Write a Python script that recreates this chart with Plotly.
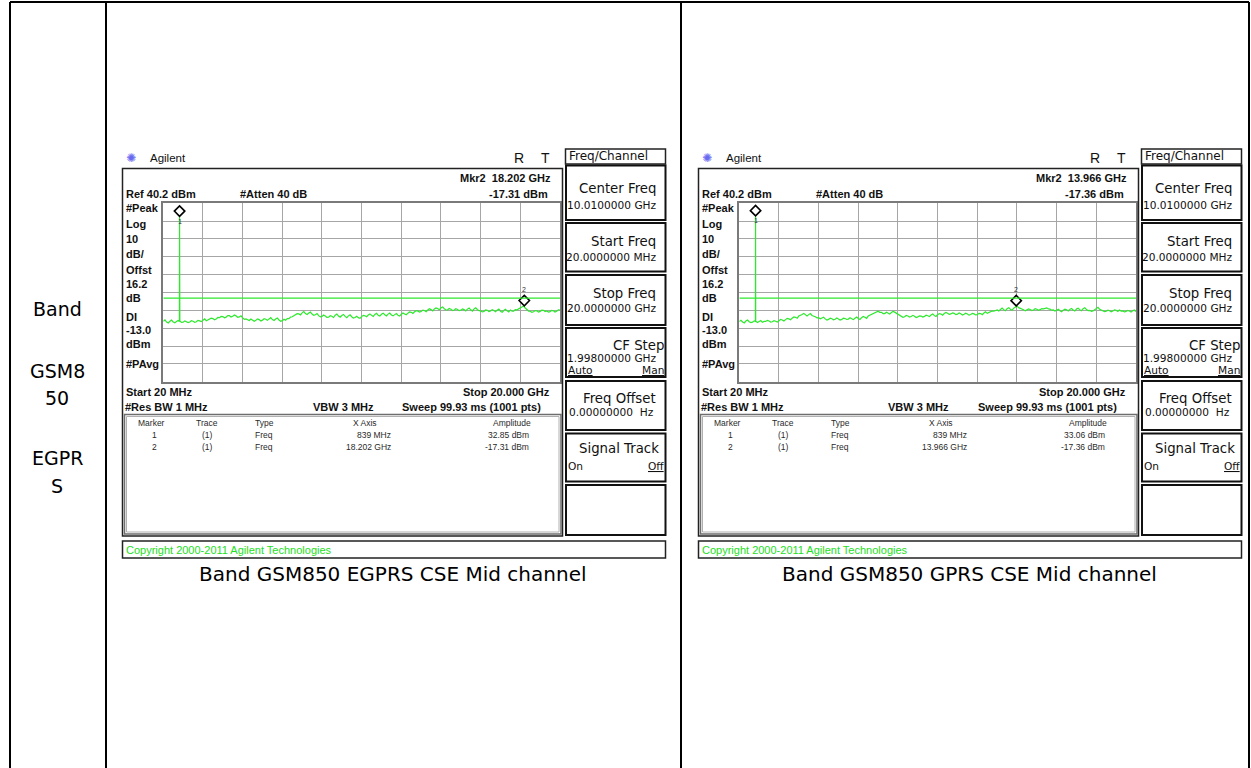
import numpy as np
import plotly.graph_objects as go

W, H = 1251, 768

# ---------------- data ----------------
sweep_start_ghz = 0.02
sweep_stop_ghz = 20.0
ref_level_dbm = 40.2
db_per_div = 10.0
display_line_dbm = -13.0

egprs_trace_dbm = [
    -26.0, -25.2, -26.4, -26.9, -25.9, -25.3, -26.3, -26.8, -26.1, -25.5,
    -25.8, -26.6, -26.5, -25.7, -26.0, -26.7, -26.3, -25.6, -25.9, -26.5,
    -26.2, -25.4, -25.7, -26.1, -25.3, -24.6, -25.6, -25.0, -24.9, -24.2,
    -24.4, -25.1, -24.7, -23.8, -23.9, -23.2, -23.3, -24.0, -23.6, -22.7,
    -22.8, -23.5, -23.1, -22.4, -22.9, -23.7, -23.5, -22.9, -24.0, -24.8,
    -24.6, -25.3, -25.5, -24.7, -25.1, -25.9, -25.4, -24.6, -25.0, -25.8,
    -25.3, -24.5, -24.8, -25.4, -24.6, -23.9, -25.0, -25.5, -24.7, -24.1,
    -25.2, -25.9, -25.6, -24.8, -25.3, -24.4, -24.5, -23.6, -23.4, -22.7,
    -22.5, -21.7, -21.8, -22.4, -21.2, -20.5, -21.6, -22.1, -21.3, -20.8,
    -21.9, -22.6, -22.3, -21.6, -22.8, -23.5, -23.2, -22.4, -23.0, -23.7,
    -23.6, -22.8, -23.1, -23.8, -22.5, -21.9, -23.0, -23.6, -22.7, -22.1,
    -23.2, -23.9, -22.9, -22.3, -23.4, -24.1, -23.8, -23.1, -23.9, -24.3,
    -23.3, -22.6, -22.8, -23.4, -22.4, -21.8, -22.6, -23.2, -22.1, -21.5,
    -22.5, -23.0, -22.0, -21.4, -22.3, -22.9, -21.9, -21.3, -22.4, -22.9,
    -22.2, -21.6, -22.5, -23.0, -22.0, -21.3, -21.8, -22.3, -21.4, -20.7,
    -20.9, -21.5, -20.6, -20.0, -20.2, -20.8, -20.5, -19.7, -19.9, -20.6,
    -19.6, -18.9, -19.4, -20.1, -19.0, -18.5, -18.8, -19.5, -18.4, -17.9,
    -18.9, -19.6, -19.5, -18.8, -19.2, -19.9, -19.6, -18.9, -19.3, -20.0,
    -19.7, -19.0, -19.4, -20.1, -19.1, -18.5, -19.5, -20.2, -19.0, -18.4,
    -19.3, -20.0, -20.1, -20.7, -20.4, -19.6, -19.8, -20.5, -20.2, -19.4,
    -19.9, -20.6, -19.7, -19.1, -20.3, -20.9, -19.9, -19.2, -20.1, -20.7,
    -19.6, -20.3, -20.2, -19.4, -19.5, -18.9, -18.6, -17.8, -17.4, -18.5,
    -19.4, -20.2, -20.3, -20.9, -20.6, -19.9, -20.1, -20.8, -20.4, -19.7,
    -19.8, -20.5, -20.2, -20.8, -20.5, -19.8, -20.0, -20.7, -20.3, -19.5,
    -19.6,
]
gprs_trace_dbm = [
    -26.1, -25.4, -26.3, -26.9, -25.8, -25.2, -26.2, -26.7, -26.4, -25.7,
    -25.9, -26.6, -26.1, -25.5, -26.5, -26.0, -26.0, -25.4, -25.8, -26.4,
    -26.2, -25.6, -25.9, -26.4, -25.6, -24.9, -25.2, -25.8, -25.0, -24.3,
    -24.6, -25.1, -24.2, -23.5, -23.7, -24.2, -23.0, -22.3, -22.1, -21.5,
    -22.4, -23.0, -22.2, -21.6, -22.7, -23.3, -23.4, -24.0, -23.9, -24.6,
    -24.3, -23.7, -24.6, -25.2, -24.9, -24.2, -24.5, -25.1, -24.8, -24.1,
    -24.6, -25.2, -24.9, -24.2, -24.4, -24.9, -24.7, -24.0, -24.5, -25.0,
    -24.2, -23.6, -24.4, -24.9, -23.9, -23.2, -23.7, -24.3, -23.0, -22.5,
    -22.4, -21.7, -21.4, -20.6, -20.3, -20.9, -20.9, -21.6, -21.6, -20.9,
    -21.3, -21.9, -21.0, -20.4, -20.8, -21.4, -21.9, -22.6, -23.1, -23.7,
    -23.4, -22.7, -23.0, -23.6, -23.3, -22.6, -23.1, -23.8, -23.5, -22.9,
    -23.0, -23.6, -23.2, -22.5, -22.8, -23.3, -22.4, -21.8, -22.7, -23.2,
    -22.3, -21.6, -21.9, -22.5, -21.6, -21.0, -21.4, -22.0, -21.8, -21.2,
    -21.5, -22.2, -21.9, -21.3, -21.7, -22.4, -22.0, -21.4, -21.8, -22.5,
    -22.1, -21.5, -21.8, -22.4, -22.2, -21.5, -21.6, -22.2, -21.3, -20.6,
    -21.5, -21.0, -20.8, -20.1, -20.3, -19.8, -19.6, -20.2, -19.1, -18.5,
    -19.4, -20.0, -18.9, -18.3, -19.2, -19.8, -18.6, -17.9, -17.4, -18.3,
    -18.6, -19.3, -19.5, -20.1, -19.7, -19.0, -19.3, -19.9, -19.6, -18.9,
    -19.2, -19.8, -19.4, -18.8, -19.0, -18.5, -18.4, -19.0, -19.1, -19.7,
    -19.6, -20.2, -19.8, -19.2, -20.0, -20.6, -19.7, -19.1, -19.5, -20.1,
    -19.3, -18.8, -19.6, -20.2, -19.1, -18.6, -19.4, -20.0, -18.9, -18.3,
    -19.3, -19.9, -19.8, -20.4, -20.1, -19.4, -18.5, -18.1, -19.2, -19.8,
    -19.9, -20.5, -20.3, -19.7, -20.0, -20.6, -20.2, -19.5, -19.8, -20.4,
    -19.6, -20.2, -20.1, -20.7, -20.4, -19.8, -20.2, -20.8, -20.0, -19.6,
    -20.5,
]
spike_freq_ghz = [0.832, 0.839, 0.846]
egprs_spike_dbm = [-26.1, 32.85, -26.0]
gprs_spike_dbm = [-26.0, 33.06, -26.1]

egprs_marker_freq_ghz = [0.839, 18.202]
egprs_marker_dbm = [32.85, -17.31]
gprs_marker_freq_ghz = [0.839, 13.966]
gprs_marker_dbm = [33.06, -17.36]

egprs_marker_x_text = ["839 MHz", "18.202 GHz"]
egprs_marker_amp_text = ["32.85 dBm", "-17.31 dBm"]
gprs_marker_x_text = ["839 MHz", "13.966 GHz"]
gprs_marker_amp_text = ["33.06 dBm", "-17.36 dBm"]

captions = ["Band GSM850 EGPRS CSE Mid channel", "Band GSM850 GPRS CSE Mid channel"]
row_label_lines = ["Band", "GSM8", "50", "EGPR", "S"]
side_labels = ["#Peak", "Log", "10", "dB/", "Offst", "16.2", "dB", "DI", "-13.0", "dBm", "#PAvg"]
softkey_titles = ["Center Freq", "Start Freq", "Stop Freq", "CF Step", "Freq Offset", "Signal Track"]
softkey_values = ["10.0100000 GHz", "20.0000000 MHz", "20.0000000 GHz", "1.99800000 GHz", "0.00000000\u00a0 Hz"]

# ---------------- style / layout helpers ----------------
ARIAL = "Liberation Sans, Arial, sans-serif"
DEJAVU = "DejaVu Sans, sans-serif"
GREEN = "#2ee82e"
GRID = "#a6a6a6"


def X(px):
    return px / W


def Y(py):
    return 1 - py / H


shapes = []
annotations = []


def rect(x0, y0, x1, y1, color="#111", width=1.5):
    shapes.append(dict(type="rect", xref="paper", yref="paper",
                       x0=X(x0), x1=X(x1), y0=Y(y1), y1=Y(y0),
                       line=dict(color=color, width=width),
                       fillcolor="rgba(0,0,0,0)", layer="above"))


def seg(x0, y0, x1, y1, color="#000", width=2):
    shapes.append(dict(type="line", xref="paper", yref="paper",
                       x0=X(x0), x1=X(x1), y0=Y(y0), y1=Y(y1),
                       line=dict(color=color, width=width), layer="above"))


def txt(x, y, s, size, anchor="left", bold=False, color="#111", family=ARIAL):
    annotations.append(dict(x=X(x), y=Y(y), xref="paper", yref="paper", text=s,
                            showarrow=False, xanchor=anchor, yanchor="middle",
                            borderpad=0,
                            font=dict(size=size, color=color, family=family,
                                      weight="bold" if bold else "normal")))


# table lines
seg(10, 2, 1249, 2)
for xv in (10, 106, 681, 1249):
    seg(xv, 2, xv, 768)

row_label_y = [309, 371, 398, 458, 486]
for s, yy in zip(row_label_lines, row_label_y):
    txt(57, yy, s, 19, anchor="center", family=DEJAVU, color="#000")

fig = go.Figure()

panels = [
    (0, egprs_trace_dbm, egprs_spike_dbm, egprs_marker_freq_ghz, egprs_marker_dbm,
     egprs_marker_x_text, egprs_marker_amp_text, captions[0]),
    (576, gprs_trace_dbm, gprs_spike_dbm, gprs_marker_freq_ghz, gprs_marker_dbm,
     gprs_marker_x_text, gprs_marker_amp_text, captions[1]),
]

grid_left, grid_right, grid_top, grid_bottom = 163.3, 560.0, 203.3, 381.7
side_label_y = [208.3, 224.3, 239, 254.3, 270.3, 283.7, 297.7, 316.7, 330, 344.3, 364.3]
marker_offset_db = 3.0

for k, (dx, trace, spike, mfreq, mamp, mxt, mat, cap) in enumerate(panels, start=1):
    xa = "x" if k == 1 else "x%d" % k
    ya = "y" if k == 1 else "y%d" % k
    base_f = list(np.linspace(sweep_start_ghz, sweep_stop_ghz, len(trace)))
    pts = sorted(zip(base_f + spike_freq_ghz, list(trace) + list(spike)))
    fig.add_trace(go.Scatter(x=[p[0] for p in pts], y=[p[1] for p in pts], mode="lines",
                             line=dict(color=GREEN, width=1.2), xaxis=xa, yaxis=ya,
                             hoverinfo="skip", showlegend=False))
    # display line
    shapes.append(dict(type="line", xref=xa, yref=ya, x0=sweep_start_ghz, x1=sweep_stop_ghz,
                       y0=display_line_dbm, y1=display_line_dbm,
                       line=dict(color=GREEN, width=1.2), layer="above"))
    # markers
    fig.add_trace(go.Scatter(x=mfreq, y=[a + marker_offset_db for a in mamp], mode="markers",
                             marker=dict(symbol="diamond", size=8, color="white",
                                         line=dict(color="black", width=1.6)),
                             xaxis=xa, yaxis=ya, hoverinfo="skip", showlegend=False,
                             cliponaxis=False))
    for i, (f, a) in enumerate(zip(mfreq, mamp)):
        annotations.append(dict(x=f, y=a + marker_offset_db, xref=xa, yref=ya, text=str(i + 1),
                                showarrow=False, yshift=-10 if i == 0 else 11,
                                font=dict(size=7, color="#333", family=ARIAL)))

    # axes
    xdom = [X(grid_left + dx), X(grid_right + dx)]
    ydom = [Y(grid_bottom), Y(grid_top)]
    common = dict(showgrid=True, gridcolor=GRID, gridwidth=1, showticklabels=False, ticks="",
                  zeroline=False, showline=True, linecolor="#7a7a7a", linewidth=1.5, mirror=True,
                  fixedrange=True)
    fig.update_layout(**{
        ("xaxis" if k == 1 else "xaxis%d" % k): dict(domain=xdom, range=[sweep_start_ghz, sweep_stop_ghz],
                                                     tick0=sweep_start_ghz,
                                                     dtick=(sweep_stop_ghz - sweep_start_ghz) / 10,
                                                     anchor=ya, **common),
        ("yaxis" if k == 1 else "yaxis%d" % k): dict(domain=ydom,
                                                     range=[ref_level_dbm - 10 * db_per_div, ref_level_dbm],
                                                     tick0=ref_level_dbm, dtick=db_per_div,
                                                     anchor=xa, **common),
    })

    # frames
    rect(122.5 + dx, 168.5, 562.5 + dx, 536, "#222", 1.5)
    rect(124.5 + dx, 414.5, 561 + dx, 534, "#6e6e6e", 1.5)
    rect(126.5 + dx, 416.5, 559 + dx, 532, "#b0b0b0", 1)
    rect(122.5 + dx, 541, 665.5 + dx, 558, "#222", 1.5)
    rect(565.5 + dx, 149, 665.5 + dx, 164, "#222", 1.5)
    for (y0, y1) in [(165.5, 220), (223, 271.5), (275, 325), (328, 377),
                     (381, 430), (433.5, 481.5), (485, 535)]:
        rect(566 + dx, y0, 665.5 + dx, y1, "#111", 2)

    # header
    txt(131 + dx, 158, "\u273a", 12, anchor="center", color="#6a6af0", family=DEJAVU)
    txt(149 + dx, 158, "Agilent", 11.5)
    txt(519 + dx, 158, "R", 14, anchor="center")
    txt(545 + dx, 158, "T", 14, anchor="center")
    txt(552 + dx, 178.3, "Mkr2\u00a0\u00a0" + mxt[1], 11, anchor="right", bold=True)
    txt(124.5 + dx, 194.5, "Ref 40.2 dBm", 11, bold=True)
    txt(239 + dx, 194.5, "#Atten 40 dB", 11, bold=True)
    txt(548.5 + dx, 194.5, mat[1], 11, anchor="right", bold=True)
    for s, yy in zip(side_labels, side_label_y):
        txt(124.5 + dx, yy, s, 11, bold=True)
    txt(124.5 + dx, 391.7, "Start 20 MHz", 11, bold=True)
    txt(551 + dx, 391.7, "Stop 20.000 GHz", 11, anchor="right", bold=True)
    txt(123.5 + dx, 407.3, "#Res BW 1 MHz", 11, bold=True)
    txt(343 + dx, 407.3, "VBW 3 MHz", 11, anchor="center", bold=True)
    txt(541.5 + dx, 407.3, "Sweep 99.93 ms (1001 pts)", 11, anchor="right", bold=True)

    # marker table
    tcol = "#2a2a2a"
    txt(151 + dx, 423.3, "Marker", 8.5, anchor="center", color=tcol)
    txt(207 + dx, 423.3, "Trace", 8.5, anchor="center", color=tcol)
    txt(254 + dx, 423.3, "Type", 8.5, color=tcol)
    txt(365 + dx, 423.3, "X Axis", 8.5, anchor="center", color=tcol)
    txt(512 + dx, 423.3, "Amplitude", 8.5, anchor="center", color=tcol)
    for i, yy in enumerate([435.2, 447.3]):
        txt(154 + dx, yy, str(i + 1), 8.5, anchor="center", color=tcol)
        txt(207 + dx, yy, "(1)", 8.5, anchor="center", color=tcol)
        txt(254 + dx, yy, "Freq", 8.5, color=tcol)
        txt(392 + dx, yy, mxt[i], 8.5, anchor="right", color=tcol)
        txt(530 + dx, yy, mat[i], 8.5, anchor="right", color=tcol)

    txt(124.5 + dx, 550, "Copyright 2000-2011 Agilent Technologies", 11, color="#22e022")

    # softkeys
    txt(568 + dx, 155.8, "Freq/Channel", 12, family=DEJAVU, color="#111")
    title_y = [188.3, 241.7, 293.3, 345, 398.3, 448.3]
    title_x = [657, 657, 657, 665, 657, 660]
    for s, yy, xx in zip(softkey_titles, title_y, title_x):
        txt(xx + dx, yy, s, 13.3, anchor="right", family=DEJAVU, color="#111")
    value_y = [205, 256.7, 308.3, 357.7, 411.7]
    for s, yy in zip(softkey_values, value_y):
        txt(611.5 + dx, yy, s, 10.6, anchor="center", family=DEJAVU, color="#111")
    txt(567 + dx, 370, "<u>Auto</u>", 10.6, family=DEJAVU, color="#111")
    txt(665 + dx, 370, "<u>Man</u>", 10.6, anchor="right", family=DEJAVU, color="#111")
    txt(567 + dx, 465.7, "On", 10.6, family=DEJAVU, color="#111")
    txt(665 + dx, 465.7, "<u>Off</u>", 10.6, anchor="right", family=DEJAVU, color="#111")

    # caption
    cx = (grid_left + 565.5) / 2 + dx + 29
    txt(cx, 574, cap, 20, anchor="center", family=DEJAVU, color="#000")

fig.update_layout(width=W, height=H, margin=dict(l=0, r=0, t=0, b=0),
                  paper_bgcolor="white", plot_bgcolor="white",
                  showlegend=False, hovermode=False,
                  shapes=shapes, annotations=annotations)

fig.write_html("out.html", config={"displayModeBar": False},
               post_script="document.body.style.margin='0';document.body.style.overflow='hidden';")
